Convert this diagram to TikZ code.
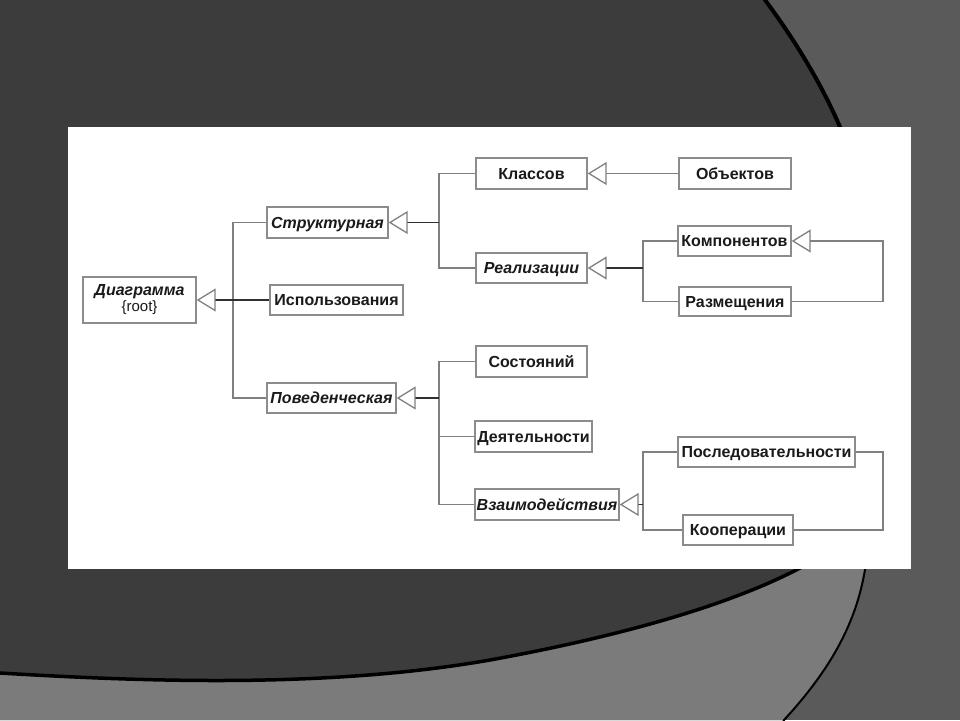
\documentclass[tikz,border=0pt]{standalone}
\usepackage{fontspec}
\setmainfont{Liberation Sans}
\usetikzlibrary{arrows.meta}
\definecolor{bgdark}{HTML}{3C3C3C}
\definecolor{bgmid}{HTML}{5A5A5A}
\definecolor{bglight}{HTML}{7B7B7B}
\definecolor{boxgray}{HTML}{8C8C8C}
\definecolor{linegray}{HTML}{808080}
\definecolor{stubdark}{HTML}{303030}
\definecolor{textc}{HTML}{1A1A1A}
\begin{document}
\begin{tikzpicture}[x=1pt,y=-1pt,
 base/.style={draw=boxgray, line width=1.4pt, fill=white, inner sep=0pt, text=textc},
 box/.style={base, text height=11.5pt, text depth=0pt, font=\fontsize{16}{18}\selectfont\bfseries},
 ibox/.style={box, font=\fontsize{16}{18}\selectfont\bfseries\itshape},
 tree/.style={draw=linegray, line width=1.3pt},
 gen/.style={draw=stubdark, line width=1.3pt, -{Triangle[open, length=19pt, width=23pt, color=linegray]}},
 gengray/.style={gen, draw=linegray},
]
\useasboundingbox (0,0) rectangle (960,720);
% background
\fill[bgmid] (0,0) rectangle (960,720);
\fill[bgdark] (0,0) -- (765,0) .. controls (795,40) and (822,85) .. (840,127) -- (880,200) -- (880,500) -- (867,555) .. controls (860,620) and (830,670) .. (784,720) -- (0,720) -- cycle;
\fill[bglight] (0,673) .. controls (150,682) and (330,688) .. (490,660) .. controls (600,640) and (720,610) .. (800,568) -- (868,540) -- (867,555) .. controls (860,620) and (830,670) .. (784,720) -- (0,720) -- cycle;
\draw[black, line width=4pt] (765,-3) -- (765,0) .. controls (795,40) and (822,85) .. (840,127) -- (850,150);
\draw[black, line width=3.5pt] (-3,673) -- (0,673) .. controls (150,682) and (330,688) .. (490,660) .. controls (600,640) and (720,610) .. (800,568) -- (840,545);
\draw[black, line width=2pt] (867,555) .. controls (860,620) and (830,670) .. (784,720) -- (782,724);
\fill[white] (67.5,127) rectangle (910.5,568.5);
% nodes
\node[base, font=\fontsize{16}{18}\selectfont\bfseries\itshape, minimum width=113, minimum height=46, align=center] (root) at (139.5,300) {Диаграмма\\[-2pt]{\mdseries\upshape\fontsize{15}{16}\selectfont\{root\}}};
\node[ibox, minimum width=121, minimum height=31] (struct) at (327.5,222.5) {Структурная};
\node[box, minimum width=133, minimum height=30] (ispol) at (336.5,300) {Использования};
\node[ibox, minimum width=129, minimum height=30] (povad) at (331.5,398) {Поведенческая};
\node[box, minimum width=111, minimum height=31] (klass) at (531.5,173.5) {Классов};
\node[box, minimum width=112, minimum height=31] (obj) at (735,173.5) {Объектов};
\node[ibox, minimum width=111, minimum height=30] (real) at (531.5,268) {Реализации};
\node[box, minimum width=113, minimum height=30] (komp) at (734.5,241) {Компонентов};
\node[box, minimum width=112, minimum height=29] (razm) at (735,301.5) {Размещения};
\node[box, minimum width=111, minimum height=31] (sost) at (531.5,361.5) {Состояний};
\node[box, minimum width=117, minimum height=31] (deyat) at (533.5,436.5) {Деятельности};
\node[ibox, minimum width=144, minimum height=31] (vzaim) at (547,504.5) {Взаимодействия};
\node[box, minimum width=177, minimum height=30] (posl) at (766.5,452) {Последовательности};
\node[box, minimum width=110, minimum height=30] (koop) at (738,530) {Кооперации};
% connectors
\coordinate (j1) at (233,300);
\draw[tree] (struct.west) -| (j1) |- (povad.west);
\draw[gen] (ispol.west) -- (root.east);
\coordinate (j2) at (439,222.5);
\draw[tree] (klass.west) -| (j2) |- (real.west);
\draw[gen] (j2) -- (struct.east);
\draw[gengray] (obj.west) -- (klass.east);
\coordinate (j3) at (643,268);
\draw[tree] (komp.west) -| (j3) |- (razm.west);
\draw[gen] (j3) -- (real.east);
\coordinate (lk) at (883,270);
\draw[gengray] (razm.east) -| (lk) |- (komp.east);
\coordinate (j5) at (439,398);
\draw[tree] (sost.west) -| (j5) |- (vzaim.west);
\draw[tree] (deyat.west) -- (deyat.west -| j5);
\draw[gen] (j5) -- (povad.east);
\coordinate (j6) at (643,504.5);
\draw[tree] (posl.west) -| (j6) |- (koop.west);
\draw[gen] (j6) -- (vzaim.east);
\coordinate (lp) at (883,490);
\draw[tree] (posl.east) -| (lp) |- (koop.east);
\end{tikzpicture}
\end{document}
